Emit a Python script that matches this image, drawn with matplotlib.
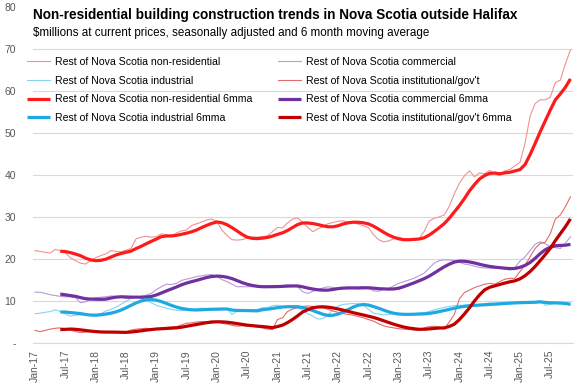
import matplotlib
matplotlib.use("Agg")
import matplotlib.pyplot as plt
import pandas as pd

# Monthly values, Jan-17 .. Nov-25, $millions
nonres = [
    22.0, 21.8, 21.6, 21.4, 22.3, 22.0, 21.5, 20.3, 19.6, 19.0, 18.8, 19.6,
    20.3, 20.8, 21.2, 22.0, 21.8, 21.7, 22.1, 22.5, 24.8, 25.2, 25.4, 25.2,
    25.3, 26.0, 25.8, 25.3, 26.2, 26.7, 26.9, 28.0, 28.4, 28.8, 29.3, 29.5,
    28.9, 26.9, 25.6, 24.6, 24.5, 24.6, 25.0, 25.2, 25.2, 25.3, 25.5, 26.5,
    27.5, 27.4, 28.6, 29.5, 29.8, 28.7, 27.5, 26.5, 27.2, 27.7, 28.4, 28.7,
    29.0, 29.1, 28.8, 28.6, 28.3, 27.9, 27.5, 25.8, 24.6, 24.1, 24.3, 24.8,
    25.2, 24.6, 24.5, 24.6, 24.8, 26.5, 29.0, 29.7, 30.0, 30.5, 32.5, 35.5,
    38.0, 39.8, 41.0, 39.6, 40.5, 40.3, 41.1, 40.3, 39.9, 41.0, 41.3, 42.2,
    43.0, 47.5, 54.0, 57.0, 57.9, 57.9, 58.5, 62.0, 62.6, 66.5, 69.8,
]
commercial = [
    12.1, 12.1, 11.8, 11.5, 11.3, 11.1, 11.0, 11.0, 10.8, 9.6, 9.8, 10.5,
    10.8, 10.9, 11.0, 11.2, 11.1, 11.0, 10.6, 10.6, 11.0, 11.1, 11.4, 11.8,
    12.7, 13.4, 14.0, 13.9, 14.2, 14.9, 15.2, 15.5, 15.8, 16.0, 16.2, 16.3,
    15.8, 15.1, 14.6, 14.0, 13.4, 13.4, 13.4, 13.4, 13.4, 13.4, 13.4, 13.5,
    13.5, 13.7, 13.8, 13.6, 13.4, 12.2, 11.8, 12.3, 12.7, 13.1, 13.4, 13.2,
    13.0, 13.0, 13.0, 13.1, 13.3, 13.4, 13.1, 12.4, 12.3, 12.8, 13.0, 13.6,
    14.2, 14.6, 15.0, 15.4, 16.0, 16.6, 17.8, 19.0, 19.6, 19.8, 19.8, 19.6,
    19.2, 18.8, 18.6, 18.3, 18.0, 17.9, 17.8, 17.8, 17.8, 17.6, 17.4, 18.0,
    19.5, 20.5, 22.0, 23.5, 24.1, 23.6, 23.0, 22.7, 22.5, 23.8, 25.3,
]
industrial = [
    7.0, 7.1, 7.3, 7.5, 7.9, 7.5, 6.9, 6.4, 6.6, 6.7, 6.7, 6.6,
    6.7, 7.0, 7.6, 8.0, 8.5, 9.2, 9.9, 10.6, 11.0, 10.8, 10.2, 9.6,
    9.0, 8.6, 8.3, 8.0, 7.8, 7.7, 7.8, 7.8, 8.1, 8.3, 8.2, 8.0,
    7.9, 8.0, 8.2, 6.8, 7.6, 7.9, 7.8, 7.8, 8.0, 8.4, 8.4, 8.9,
    9.0, 8.7, 8.5, 8.4, 8.3, 7.8, 7.0, 6.4, 5.7, 5.8, 6.7, 8.0,
    8.8, 9.2, 9.3, 9.4, 9.3, 9.0, 8.0, 7.1, 6.9, 6.7, 6.8, 7.0,
    6.9, 6.7, 6.8, 6.9, 7.1, 7.2, 7.5, 7.9, 8.2, 8.5, 8.7, 8.9,
    9.0, 9.0, 9.1, 9.0, 9.2, 9.3, 9.5, 9.4, 9.5, 9.6, 9.6, 9.7,
    9.8, 9.6, 9.7, 9.8, 10.1, 9.0, 9.2, 9.5, 9.4, 9.3, 9.0,
]
institutional = [
    3.0, 2.7, 3.0, 3.3, 3.5, 3.6, 3.4, 3.1, 2.7, 2.5, 2.6, 2.7,
    2.7, 2.6, 2.5, 2.5, 2.5, 2.5, 2.6, 3.1, 3.3, 3.4, 3.5, 3.3,
    3.4, 3.5, 3.7, 3.8, 3.9, 4.3, 4.7, 4.8, 5.0, 5.1, 5.1, 5.2,
    5.1, 4.7, 4.5, 4.2, 4.0, 4.1, 4.0, 4.0, 3.8, 3.6, 3.3, 3.2,
    5.6, 6.0, 7.5, 8.1, 8.5, 8.7, 8.8, 8.7, 8.6, 8.4, 8.0, 7.6,
    7.3, 7.0, 6.8, 6.6, 6.3, 6.0, 5.6, 5.2, 4.6, 4.1, 3.8, 3.6,
    3.4, 3.3, 3.2, 3.1, 3.0, 3.6, 3.9, 4.0, 3.8, 3.3, 5.0, 6.8,
    10.5, 12.0, 12.6, 13.2, 13.6, 14.0, 14.2, 14.0, 14.6, 15.2, 15.4, 15.4,
    17.0, 18.5, 20.5, 22.5, 23.7, 24.0, 26.0, 29.5, 30.5, 32.5, 34.8,
]

x_labels = [
    "Jan-17", "Jul-17", "Jan-18", "Jul-18", "Jan-19", "Jul-19",
    "Jan-20", "Jul-20", "Jan-21", "Jul-21", "Jan-22", "Jul-22",
    "Jan-23", "Jul-23", "Jan-24", "Jul-24", "Jan-25", "Jul-25",
]
y_ticks = [0, 10, 20, 30, 40, 50, 60, 70, 80]
y_labels = ["-", "10", "20", "30", "40", "50", "60", "70", "80"]

df = pd.DataFrame({
    "nonres": nonres,
    "commercial": commercial,
    "industrial": industrial,
    "institutional": institutional,
})
# 6 month moving average, as in the chart
mma = df.rolling(6).mean()

# name, legend label, thin colour, thick colour
series = [
    ("nonres", "non-residential", "#F29191", "#FF1A1A"),
    ("commercial", "commercial", "#B99AD6", "#7030A0"),
    ("industrial", "industrial", "#86D4F2", "#1FA9E1"),
    ("institutional", "institutional/gov't", "#E26B6B", "#C00000"),
]

font = ["Liberation Sans", "DejaVu Sans"]
grey = "#595959"

fig = plt.figure(figsize=(5.77, 3.85), dpi=100)
ax = fig.add_axes([32.5 / 577, 42 / 385, 540.5 / 577, 336 / 385])

xs = list(range(len(df)))
thin = {}
thick = {}
for key, label, c_thin, c_thick in series:
    thin[key], = ax.plot(xs, df[key], color=c_thin, lw=0.8,
                         label=f"Rest of Nova Scotia {label}")
for key, label, c_thin, c_thick in series:
    thick[key], = ax.plot(xs, mma[key], color=c_thick, lw=2.3,
                          solid_capstyle="butt",
                          label=f"Rest of Nova Scotia {label} 6mma")

ax.set_xlim(-0.5, len(df) - 0.5)
ax.set_ylim(0, 80)
ax.set_xticks(range(0, len(df), 6))
ax.set_xticklabels(x_labels, rotation=90, fontsize=7.5, color=grey,
                   family=font)
ax.set_yticks(y_ticks)
ax.set_yticklabels(y_labels, fontsize=7.5, color=grey, family=font)
ax.tick_params(axis="both", length=0)
ax.tick_params(axis="x", pad=5)
ax.tick_params(axis="y", pad=12)

ax.grid(axis="y", color="#D9D9D9", lw=0.8)
ax.set_axisbelow(True)
ax.get_ygridlines()[-1].set_visible(False)
for side in ["top", "right", "left"]:
    ax.spines[side].set_visible(False)
ax.spines["bottom"].set_color("#D9D9D9")

fig.text(33 / 577, 1 - 15 / 385,
         "Non-residential building construction trends in Nova Scotia outside Halifax",
         fontsize=9.8, weight="bold", family=font, va="center")
fig.text(33 / 577, 1 - 33 / 385,
         "$millions at current prices, seasonally adjusted and 6 month moving average",
         fontsize=8.4, family=font, va="center")

order = [thin["nonres"], thin["industrial"], thick["nonres"], thick["industrial"],
         thin["commercial"], thin["institutional"], thick["commercial"],
         thick["institutional"]]
fig.legend(order, [h.get_label() for h in order], loc="upper left",
           bbox_to_anchor=(27 / 577, 1 - 57 / 385), ncol=2, frameon=False,
           prop={"family": font, "size": 7.6}, handlelength=2.2,
           handletextpad=0.45, columnspacing=2.4, labelspacing=0.82,
           borderpad=0, borderaxespad=0)

fig.savefig("out.png", dpi=100)
